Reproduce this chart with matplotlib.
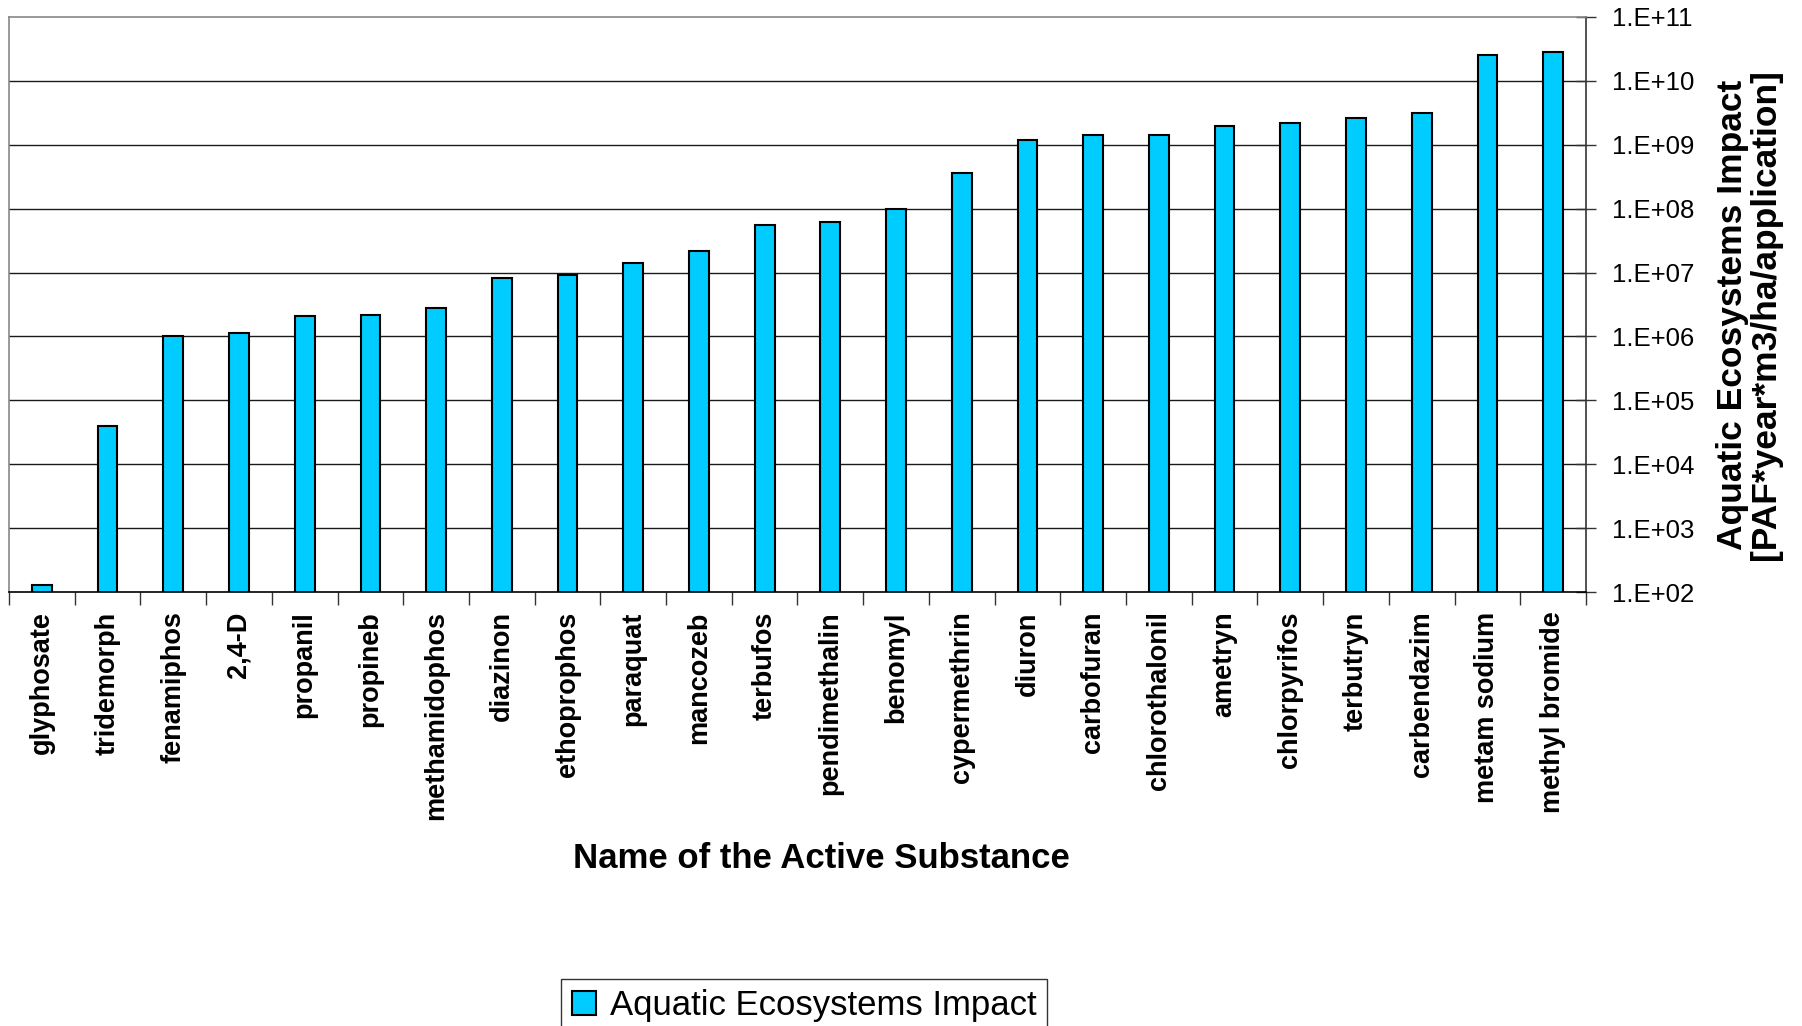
import matplotlib.pyplot as plt
import numpy as np
from matplotlib.ticker import FixedLocator, FuncFormatter, NullLocator

plt.rcParams['font.family'] = ['Liberation Sans', 'DejaVu Sans']

substances = ["glyphosate", "tridemorph", "fenamiphos", "2,4-D", "propanil",
              "propineb", "methamidophos", "diazinon", "ethoprophos", "paraquat",
              "mancozeb", "terbufos", "pendimethalin", "benomyl", "cypermethrin",
              "diuron", "carbofuran", "chlorothalonil", "ametryn", "chlorpyrifos",
              "terbutryn", "carbendazim", "metam sodium", "methyl bromide"]
impact = [1.28e2, 4.0e4, 1.0e6, 1.13e6, 2.06e6,
          2.18e6, 2.8e6, 8.1e6, 9.2e6, 1.4e7,
          2.15e7, 5.5e7, 6.2e7, 1.0e8, 3.6e8,
          1.18e9, 1.4e9, 1.4e9, 2.0e9, 2.16e9,
          2.6e9, 3.2e9, 2.5e10, 2.8e10]

fig = plt.figure(figsize=(18.02, 10.26), dpi=100)
ax = fig.add_axes([9 / 1802, 1 - 592 / 1026, (1586 - 9) / 1802, (592 - 17) / 1026])

x = np.arange(len(substances))
ax.set_yscale('log')
ax.set_ylim(1e2, 1e11)
ax.set_xlim(-0.5, len(substances) - 0.5)

# horizontal grid at every decade
for k in range(3, 11):
    ax.axhline(10.0 ** k, color='#1a1a1a', lw=1.0, zorder=1)

ax.bar(x, impact, width=0.3, color='#00CCFF', edgecolor='black', lw=1.5,
       zorder=2, label='Aquatic Ecosystems Impact')

# y axis on the right side, scientific labels
ax.yaxis.tick_right()
ax.yaxis.set_major_locator(FixedLocator([10.0 ** k for k in range(2, 12)]))
ax.yaxis.set_minor_locator(NullLocator())
ax.yaxis.set_major_formatter(FuncFormatter(lambda v, p: "1.E+%02d" % round(np.log10(v))))
ax.tick_params(axis='y', which='major', direction='inout', length=14, width=1,
               labelsize=18.5, pad=12, color='#333333')

# category boundaries get tick marks, centers get the names
ax.set_xticks(np.arange(len(substances) + 1) - 0.5)
ax.set_xticklabels([])
ax.set_xticks(x, minor=True)
ax.set_xticklabels(substances, minor=True, rotation=90, fontsize=19.5,
                   fontweight='bold', va='top', ha='center')
ax.tick_params(axis='x', which='major', direction='out', length=9, width=1,
               color='#333333')
ax.tick_params(axis='x', which='minor', length=0, pad=14)

ax.spines['top'].set_color('#888888')
ax.spines['left'].set_color('#888888')
ax.spines['bottom'].set_color('black')
ax.spines['right'].set_color('#333333')
for s in ax.spines.values():
    s.set_linewidth(1.2)

fig.text(821 / 1802, 1 - 858 / 1026, "Name of the Active Substance",
         fontsize=25, fontweight='bold', ha='center', va='center')
fig.text(1749 / 1802, 1 - 315 / 1026,
         "Aquatic Ecosystems Impact\n[PAF*year*m3/ha/application]",
         fontsize=25.5, fontweight='bold', rotation=90, ha='center', va='center',
         multialignment='center', linespacing=1.0)

leg = fig.legend(loc='upper center', bbox_to_anchor=(804 / 1802, 1 - 979 / 1026),
                 fontsize=25, frameon=True, fancybox=False, edgecolor='black',
                 handlelength=0.7, handleheight=0.7, handletextpad=0.4,
                 borderpad=0.3, borderaxespad=0)
leg.get_frame().set_linewidth(1.0)

fig.savefig("out.png", dpi=100)
